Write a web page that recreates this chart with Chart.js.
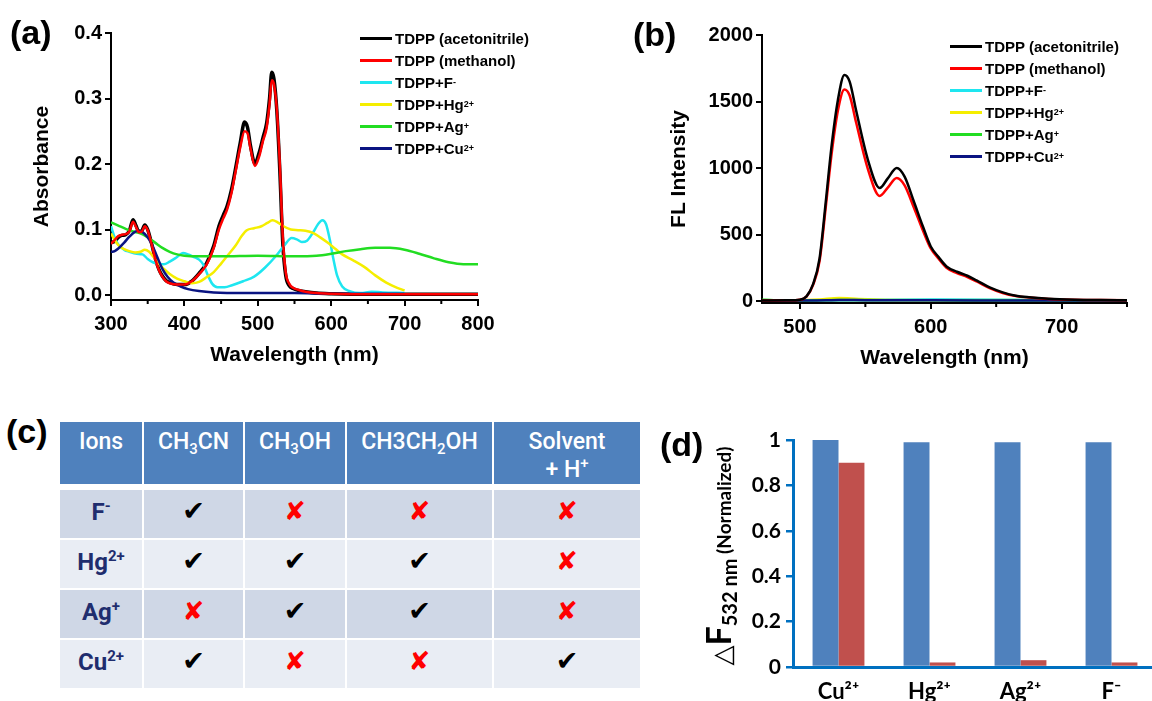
<!DOCTYPE html>
<html>
<head>
<meta charset="utf-8">
<script src="https://cdn.jsdelivr.net/npm/chart.js@4.4.1/dist/chart.umd.min.js"></script>
<style>
  html, body { margin: 0; padding: 0; background: #fff; }
  body { width: 1152px; height: 701px; position: relative; overflow: hidden;
         font-family: 'Liberation Sans', Arial, sans-serif; }
  canvas { position: absolute; }
  .plabel { position: absolute; font-weight: bold; font-size: 34px; line-height: 34px; }
  .legend { position: absolute; font-weight: bold; font-size: 15px; }
  .legend .row { height: 22px; display: flex; align-items: center; white-space: nowrap; }
  .legend .swatch { width: 32px; height: 3px; margin-right: 3px; }
  .legend sup { font-size: 9px; vertical-align: 6px; line-height: 0; }
  #tbl { position: absolute; left: 58px; top: 420px; border-collapse: collapse; table-layout: fixed;
         font-family: Roboto, 'Liberation Sans', sans-serif; }
  #tbl th { background: #4F81BD; color: #fff; font-weight: 500; font-size: 23px; line-height: 28px;
            height: 52px; padding: 6px 0 0 0; vertical-align: top; text-align: center;
            border: 2px solid #fff; border-bottom-width: 6px; }
  #tbl td { height: 44px; padding: 0 0 4px 0; text-align: center; vertical-align: middle;
            border: 2px solid #fff; font-size: 24px; }
  #tbl tr.odd td { background: #CFD7E6; }
  #tbl tr.even td { background: #E9EDF4; }
  #tbl td.ion { color: #1F2D6E; font-weight: bold; }
  #tbl sub { font-size: 15px; line-height: 0; vertical-align: -5px; }
  #tbl sup { font-size: 15px; line-height: 0; vertical-align: 9px; }
  #tbl .ok { color: #000; font-family: 'DejaVu Sans', sans-serif; font-size: 27px; line-height: 0; }
  #tbl .no { color: #F00; font-family: 'DejaVu Sans', sans-serif; font-size: 26px; line-height: 0; }
  #dTitle { position: absolute; left: 598px; top: 536px; width: 240px; height: 40px; line-height: 40px;
            transform: rotate(-90deg); text-align: center; white-space: nowrap;
            font-family: Lato, 'Liberation Sans', sans-serif; font-weight: bold; font-size: 19px; }
  #dTitle .tri { font-family: 'DejaVu Sans', sans-serif; font-weight: normal; font-size: 26px; }
  #dTitle .bigF { font-size: 34px; }
  #dTitle sub { font-size: 20px; line-height: 0; vertical-align: -6px; }
</style>
</head>
<body>

<canvas id="chartA" width="560" height="372" style="left:0;top:0"></canvas>
<canvas id="chartB" width="572" height="380" style="left:580px;top:0"></canvas>
<canvas id="chartD" width="520" height="310" style="left:650px;top:400px"></canvas>

<div class="plabel" style="left:10px;top:15px">(a)</div>
<div class="plabel" style="left:633px;top:17px">(b)</div>
<div class="plabel" style="left:6px;top:414px">(c)</div>
<div class="plabel" style="left:660px;top:427px">(d)</div>

<div class="legend" id="legendA" style="left:360px;top:27px"></div>
<div class="legend" id="legendB" style="left:950px;top:35px"></div>

<table id="tbl"></table>
<div id="dTitle"><span class="tri">△</span><span class="bigF">F</span><sub>532 nm</sub> (Normalized)</div>

<script>
// ---------- shared series names / colours ----------
const seriesNames = ['TDPP (acetonitrile)', 'TDPP (methanol)', 'TDPP+F<sup>-</sup>',
                     'TDPP+Hg<sup>2+</sup>', 'TDPP+Ag<sup>+</sup>', 'TDPP+Cu<sup>2+</sup>'];
const seriesColors = ['#000000', '#FF0000', '#1EE6F0', '#F5EE00', '#22DD22', '#0A1482'];

// ---------- (a) absorbance ----------
const uvXTicks = [300, 400, 500, 600, 700, 800];
const uvYTicks = [0, 0.1, 0.2, 0.3, 0.4];

const uvWl = [300, 305, 310, 315, 320, 325, 330, 334, 338, 342, 346, 350, 355, 360, 365, 370, 375, 380, 390, 400,
              410, 420, 430, 440, 447, 453, 458, 464, 470, 476, 482, 486, 490, 496, 502, 507, 512, 516, 519, 522,
              526, 530, 534, 538, 543, 548, 555, 565, 580, 600, 650, 700, 750, 800];
const uvAcn = [0.080, 0.082, 0.088, 0.091, 0.092, 0.098, 0.115, 0.106, 0.097, 0.098,
               0.107, 0.100, 0.080, 0.057, 0.040, 0.029, 0.022, 0.019, 0.016, 0.016,
               0.021, 0.033, 0.048, 0.075, 0.105, 0.122, 0.135, 0.160, 0.195, 0.232,
               0.264, 0.256, 0.228, 0.201, 0.218, 0.240, 0.262, 0.300, 0.340, 0.330,
               0.280, 0.190, 0.080, 0.030, 0.014, 0.010, 0.007, 0.005, 0.003, 0.002,
               0.001, 0.001, 0.001, 0.001];
const uvMeOH = [0.078, 0.084, 0.090, 0.092, 0.093, 0.097, 0.112, 0.104, 0.096, 0.097,
                0.105, 0.099, 0.079, 0.056, 0.039, 0.028, 0.021, 0.018, 0.016, 0.016,
                0.021, 0.032, 0.046, 0.072, 0.100, 0.117, 0.130, 0.155, 0.190, 0.225,
                0.250, 0.247, 0.224, 0.197, 0.212, 0.235, 0.255, 0.292, 0.328, 0.322,
                0.282, 0.200, 0.090, 0.035, 0.017, 0.011, 0.008, 0.005, 0.003, 0.002,
                0.001, 0.001, 0.001, 0.001];

const uvFWl = [300, 305, 310, 318, 325, 335, 343, 350, 357, 365, 372, 380, 390, 398, 405, 413, 420, 426, 432, 438,
               445, 455, 465, 480, 495, 510, 525, 537, 546, 553, 560, 567, 575, 582, 588, 593, 598, 603, 608, 615,
               625, 640, 655, 670, 700];
const uvF = [0.105, 0.088, 0.077, 0.069, 0.066, 0.063, 0.062, 0.055, 0.050, 0.048,
             0.047, 0.051, 0.058, 0.064, 0.062, 0.058, 0.054, 0.046, 0.030, 0.017,
             0.012, 0.012, 0.015, 0.021, 0.028, 0.042, 0.060, 0.077, 0.087, 0.085,
             0.081, 0.083, 0.095, 0.108, 0.114, 0.108, 0.085, 0.055, 0.030, 0.013,
             0.006, 0.003, 0.005, 0.004, 0.003];

const uvHgWl = [300, 305, 310, 318, 325, 333, 340, 346, 352, 358, 365, 372, 380, 390, 400, 410, 420, 430, 440, 450,
                460, 470, 478, 485, 495, 505, 513, 520, 527, 535, 545, 555, 565, 575, 585, 595, 605, 615, 630, 645,
                660, 675, 690, 700];
const uvHg = [0.094, 0.084, 0.076, 0.070, 0.067, 0.065, 0.066, 0.069, 0.066, 0.058,
              0.048, 0.040, 0.032, 0.025, 0.021, 0.018, 0.020, 0.027, 0.035, 0.048,
              0.062, 0.076, 0.090, 0.099, 0.102, 0.105, 0.110, 0.114, 0.111, 0.105,
              0.100, 0.099, 0.098, 0.095, 0.088, 0.080, 0.071, 0.062, 0.053, 0.043,
              0.030, 0.019, 0.011, 0.007];

const uvAgWl = [300, 310, 320, 330, 340, 350, 360, 370, 380, 390, 400, 420, 450, 500, 550, 580, 600, 620, 640, 660,
                680, 700, 720, 740, 760, 780, 800];
const uvAg = [0.111, 0.106, 0.101, 0.097, 0.094, 0.088, 0.080, 0.072, 0.066, 0.062,
              0.060, 0.059, 0.059, 0.060, 0.059, 0.060, 0.063, 0.067, 0.070, 0.072,
              0.072, 0.069, 0.063, 0.056, 0.050, 0.047, 0.047];

const uvCuWl = [300, 305, 310, 318, 325, 332, 337, 343, 350, 357, 363, 370, 377, 385, 395, 405, 420, 440, 480, 550,
                600, 700];
const uvCu = [0.066, 0.067, 0.071, 0.080, 0.089, 0.096, 0.098, 0.096, 0.088, 0.074,
              0.058, 0.040, 0.028, 0.019, 0.013, 0.009, 0.006, 0.004, 0.003, 0.003,
              0.002, 0.002];

// ---------- (b) fluorescence ----------
const flXTicks = [500, 600, 700];
const flYTicks = [0, 500, 1000, 1500, 2000];

const flWl = [470, 490, 500, 505, 510, 515, 520, 524, 529, 534, 538, 543, 552, 561, 567, 574, 580, 587, 594, 600,
              606, 612, 620, 628, 635, 645, 655, 665, 675, 690, 710, 730, 750];
const flAcn = [3, 5, 10, 35, 125, 320, 770, 1150, 1510, 1700, 1650, 1430, 1060, 850, 920, 1000, 935, 750, 560, 410,
               330, 260, 220, 190, 155, 102, 65, 40, 28, 17, 10, 7, 5];
const flMeOH = [3, 5, 10, 33, 120, 300, 730, 1090, 1430, 1590, 1545, 1340, 990, 790, 850, 925, 870, 705, 530, 395,
                318, 250, 210, 180, 147, 97, 60, 37, 26, 16, 9, 7, 5];

const flFWl = [470, 520, 560, 600, 650, 700, 750];
const flF = [5, 6, 8, 11, 10, 7, 4];
const flHgWl = [470, 500, 515, 530, 545, 570, 620, 700, 750];
const flHg = [5, 6, 12, 22, 16, 10, 8, 5, 4];
const flAgWl = [470, 480, 500, 530, 600, 700, 750];
const flAg = [10, 6, 4, 7, 5, 3, 3];
const flCuWl = [470, 500, 520, 530, 550, 600, 700, 750];
const flCu = [2, 3, 5, 8, 6, 5, 3, 3];

// ---------- (c) table ----------
const tableHeads = ['Ions', 'CH<sub>3</sub>CN', 'CH<sub>3</sub>OH', 'CH3CH<sub>2</sub>OH', 'Solvent<br>+ H<sup>+</sup>'];
const tableColWidths = [84, 101, 102, 147, 148];
const tableIons = ['F<sup>-</sup>', 'Hg<sup>2+</sup>', 'Ag<sup>+</sup>', 'Cu<sup>2+</sup>'];
const tableResponse = [
  [1, 0, 0, 0],
  [1, 1, 1, 0],
  [0, 1, 1, 0],
  [1, 0, 0, 1]
];

// ---------- (d) bars ----------
const barIons = ['Cu²⁺', 'Hg²⁺', 'Ag²⁺', 'F⁻'];
const barSeries1 = [1.0, 0.99, 0.99, 0.99];
const barSeries2 = [0.90, 0.02, 0.03, 0.02];
const barYTicks = [0, 0.2, 0.4, 0.6, 0.8, 1];

// ======================================================
Chart.defaults.font.family = "'Liberation Sans', Arial, sans-serif";
Chart.defaults.color = '#000';

const tickFont = { size: 20, weight: 'bold' };
const titleFont = { size: 21, weight: 'bold' };

function xy(xs, ys) {
  return xs.map((x, i) => ({ x: x, y: ys[i] }));
}

function lineSet(i, xs, ys, width, order) {
  return {
    label: seriesNames[i].replace(/<[^>]+>/g, ''),
    data: xy(xs, ys),
    borderColor: seriesColors[i],
    backgroundColor: seriesColors[i],
    borderWidth: width,
    pointRadius: 0,
    cubicInterpolationMode: 'monotone',
    fill: false,
    order: order
  };
}

function fixedTicks(list) {
  return scale => { scale.ticks = list.map(v => ({ value: v })); };
}

function blackAxis() {
  return {
    border: { display: true, color: '#000', width: 2 },
    grid: { drawOnChartArea: false, drawTicks: true, tickLength: 6, color: '#000', lineWidth: 2 }
  };
}

// small unlabelled ticks between the major ones
const minorTicks = {
  id: 'minorTicks',
  afterDraw(chart, args, opts) {
    if (!opts.step) return;
    const sx = chart.scales.x;
    const ctx = chart.ctx;
    ctx.save();
    ctx.strokeStyle = '#000';
    ctx.lineWidth = 2;
    ctx.beginPath();
    for (let v = Math.ceil(sx.min / opts.step) * opts.step; v <= sx.max; v += opts.step) {
      if (v % opts.major === 0) continue;
      const px = sx.getPixelForValue(v);
      ctx.moveTo(px, sx.top);
      ctx.lineTo(px, sx.top + opts.len);
    }
    ctx.stroke();
    ctx.restore();
  }
};

function buildLegend(id) {
  document.getElementById(id).innerHTML = seriesNames.map((n, i) =>
    `<div class="row"><span class="swatch" style="background:${seriesColors[i]}"></span>${n}</div>`
  ).join('');
}

/**
 * Panel (a): UV-vis absorbance
 */
new Chart(document.getElementById('chartA'), {
  type: 'line',
  data: {
    datasets: [
      lineSet(0, uvWl, uvAcn, 3.5, 5),
      lineSet(1, uvWl, uvMeOH, 2.5, 0),
      lineSet(2, uvFWl, uvF, 2.5, 4),
      lineSet(3, uvHgWl, uvHg, 2.5, 3),
      lineSet(4, uvAgWl, uvAg, 2.5, 2),
      lineSet(5, uvCuWl, uvCu, 2.5, 1)
    ]
  },
  options: {
    responsive: false,
    animation: false,
    layout: { padding: { left: 30, top: 33, right: 82, bottom: 0 } },
    plugins: {
      legend: { display: false },
      tooltip: { enabled: false },
      minorTicks: { step: 50, major: 100, len: 4 }
    },
    scales: {
      x: {
        type: 'linear', min: 300, max: 800,
        afterBuildTicks: fixedTicks(uvXTicks),
        afterFit: s => { s.height = 72; },
        ticks: { font: tickFont, padding: 6, maxRotation: 0, autoSkip: false },
        title: { display: true, text: 'Wavelength (nm)', font: titleFont, padding: { top: 0, bottom: 4 } },
        ...blackAxis()
      },
      y: {
        min: -0.0076, max: 0.4,
        afterBuildTicks: fixedTicks(uvYTicks),
        afterFit: s => { s.width = 81; },
        ticks: { font: tickFont, padding: 3, callback: v => v.toFixed(1) },
        title: { display: true, text: 'Absorbance', font: titleFont, padding: 0 },
        ...blackAxis()
      }
    }
  },
  plugins: [minorTicks]
});

/**
 * Panel (b): fluorescence
 */
new Chart(document.getElementById('chartB'), {
  type: 'line',
  data: {
    datasets: [
      lineSet(0, flWl, flAcn, 2.5, 1),
      lineSet(1, flWl, flMeOH, 2.5, 2),
      lineSet(2, flFWl, flF, 2.5, 5),
      lineSet(3, flHgWl, flHg, 2.5, 6),
      lineSet(4, flAgWl, flAg, 2.5, 4),
      lineSet(5, flCuWl, flCu, 2.5, 3)
    ]
  },
  options: {
    responsive: false,
    animation: false,
    layout: { padding: { left: 87, top: 35, right: 25, bottom: 0 } },
    plugins: {
      legend: { display: false },
      tooltip: { enabled: false },
      minorTicks: { step: 50, major: 100, len: 4 }
    },
    scales: {
      x: {
        type: 'linear', min: 471, max: 750,
        afterBuildTicks: fixedTicks(flXTicks),
        afterFit: s => { s.height = 77; },
        ticks: { font: tickFont, padding: 6, maxRotation: 0, autoSkip: false },
        title: { display: true, text: 'Wavelength (nm)', font: titleFont, padding: { top: 0, bottom: 9 } },
        ...blackAxis()
      },
      y: {
        min: -15, max: 2000,
        afterBuildTicks: fixedTicks(flYTicks),
        afterFit: s => { s.width = 95; },
        ticks: { font: tickFont, padding: 3, callback: v => String(v) },
        title: { display: true, text: 'FL Intensity', font: titleFont, padding: 0 },
        ...blackAxis()
      }
    }
  },
  plugins: [minorTicks]
});

/**
 * Panel (c): response table
 */
(function buildTable() {
  const tbl = document.getElementById('tbl');
  let html = '<colgroup>' + tableColWidths.map(w => `<col style="width:${w}px">`).join('') + '</colgroup>';
  html += '<tr>' + tableHeads.map(h => `<th>${h}</th>`).join('') + '</tr>';
  tableIons.forEach((ion, r) => {
    html += `<tr class="${r % 2 === 0 ? 'odd' : 'even'}"><td class="ion">${ion}</td>`;
    html += tableResponse[r].map(v => v ? '<td><span class="ok">✔</span></td>' : '<td><span class="no">✘</span></td>').join('');
    html += '</tr>';
  });
  tbl.innerHTML = html;
})();

/**
 * Panel (d): normalised response bars
 */
const blue = '#0070C0';
new Chart(document.getElementById('chartD'), {
  type: 'bar',
  data: {
    labels: barIons,
    datasets: [
      { data: barSeries1, backgroundColor: '#4F81BD', categoryPercentage: 0.57, barPercentage: 1.0 },
      { data: barSeries2, backgroundColor: '#C0504D', categoryPercentage: 0.57, barPercentage: 1.0 }
    ]
  },
  options: {
    responsive: false,
    animation: false,
    layout: { padding: { left: 0, top: 40, right: 13, bottom: 0 } },
    plugins: { legend: { display: false }, tooltip: { enabled: false } },
    scales: {
      x: {
        afterFit: s => { s.height = 43; },
        border: { display: true, color: blue, width: 3 },
        grid: { display: false, drawTicks: false },
        ticks: { font: { family: "Lato, 'Liberation Sans', sans-serif", size: 22, weight: 'bold' }, padding: 12 }
      },
      y: {
        min: 0, max: 1,
        afterBuildTicks: fixedTicks(barYTicks),
        afterFit: s => { s.width = 143; },
        border: { display: true, color: blue, width: 3 },
        grid: { drawOnChartArea: false, drawTicks: true, tickLength: 7, color: blue, lineWidth: 2.5 },
        ticks: {
          font: { family: "Lato, 'Liberation Sans', sans-serif", size: 21, weight: 'bold' },
          padding: 5,
          callback: v => (v === 0 || v === 1) ? String(v) : v.toFixed(1)
        }
      }
    }
  }
});

buildLegend('legendA');
buildLegend('legendB');
</script>
</body>
</html>
